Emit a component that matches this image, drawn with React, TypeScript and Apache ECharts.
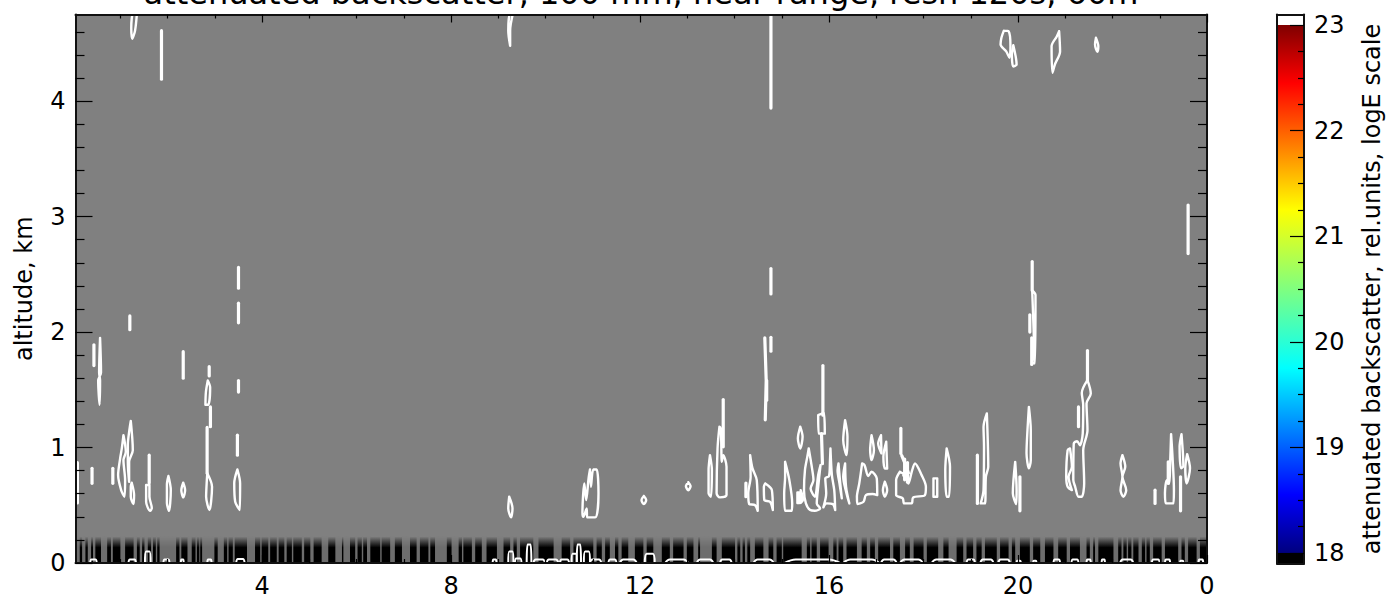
import React, { useEffect, useRef } from "react";
import * as echarts from "echarts";

type P = [number, number];

const titleText = "attenuated backscatter, 100 mm, near range, resn 120s, 60m";
const yName = "altitude, km";
const barName = "attenuated backscatter, rel.units, logE scale";

const xMajor = [4, 8, 12, 16, 20, 24];
const xMinor = [1, 2, 3, 5, 6, 7, 9, 10, 11, 13, 14, 15, 17, 18, 19, 21, 22, 23];
const yMajor = [0, 1, 2, 3, 4];
const yMinor = [0.2, 0.4, 0.6, 0.8, 1.2, 1.4, 1.6, 1.8, 2.2, 2.4, 2.6, 2.8, 3.2, 3.4, 3.6, 3.8, 4.2, 4.4, 4.6];
const barMajor = [18, 19, 20, 21, 22, 23];
const barMinor = [18.25, 18.5, 18.75, 19.25, 19.5, 19.75, 20.25, 20.5, 20.75, 21.25, 21.5, 21.75, 22.25, 22.5, 22.75];

// closed contour outlines (hour, km)
const contoursMorning: P[][] = [
  [[1.065, 1.107], [1.115, 0.963], [1.065, 0.891], [1.1, 0.718], [1.086, 0.574], [1.016, 0.631], [0.952, 0.761], [0.995, 0.906], [1.03, 0.992]],
  [[1.22, 1.231], [1.263, 0.977], [1.185, 0.876], [1.185, 0.703], [1.157, 0.876], [1.157, 1.02], [1.19, 1.15]],
  [[1.24, 0.695], [1.29, 0.588], [1.277, 0.51], [1.22, 0.574], [1.22, 0.66]],
  [[1.545, 0.675], [1.545, 0.53], [1.63, 0.452], [1.665, 0.476], [1.615, 0.574], [1.615, 0.675]],
  [[2.017, 0.753], [2.067, 0.631], [2.03, 0.452], [1.985, 0.52], [1.985, 0.68]],
  [[2.33, 0.695], [2.37, 0.63], [2.33, 0.568], [2.29, 0.63]],
  [[2.84, 0.777], [2.94, 0.66], [2.885, 0.458], [2.815, 0.574], [2.83, 0.718]],
  [[2.85, 1.58], [2.9, 1.52], [2.86, 1.37], [2.8, 1.37], [2.81, 1.48]],
  [[3.477, 0.81], [3.534, 0.69], [3.53, 0.458], [3.43, 0.53], [3.41, 0.69]],
  [[0.57, 1.95], [0.59, 1.65], [0.53, 1.58], [0.56, 1.37], [0.57, 1.58], [0.55, 1.65]],
  [[1.35, 4.76], [1.31, 4.61], [1.25, 4.54], [1.23, 4.63], [1.27, 4.76]],
  [[9.31, 4.76], [9.25, 4.61], [9.25, 4.48], [9.21, 4.61], [9.25, 4.76]],
  [[9.23, 0.574], [9.3, 0.473], [9.27, 0.395], [9.21, 0.473]],
  [[10.94, 0.81], [10.96, 0.66], [11.01, 0.81], [11.08, 0.81], [11.12, 0.603], [11.05, 0.395], [10.88, 0.395], [10.87, 0.473], [10.8, 0.4], [10.78, 0.435], [10.82, 0.689], [10.86, 0.545], [10.91, 0.733]],
  [[12.08, 0.58], [12.13, 0.545], [12.08, 0.51], [12.03, 0.545]],
  [[13.02, 0.7], [13.07, 0.666], [13.02, 0.63], [12.97, 0.666]],
];
const contoursMidday: P[][] = [
  [[13.48, 0.934], [13.52, 0.804], [13.5, 0.574], [13.45, 0.605], [13.45, 0.804]],
  [[13.68, 1.18], [13.64, 0.992], [13.62, 0.603], [13.69, 0.568], [13.83, 0.588], [13.83, 0.833], [13.76, 0.934], [13.73, 0.876], [13.71, 1.165]],
  [[14.33, 0.934], [14.38, 0.819], [14.47, 0.718], [14.49, 0.452], [14.43, 0.502], [14.31, 0.51], [14.29, 0.603], [14.34, 0.747]],
  [[14.65, 0.689], [14.79, 0.631], [14.81, 0.458], [14.75, 0.53], [14.63, 0.545], [14.62, 0.66]],
  [[15.07, 0.876], [15.16, 0.718], [15.22, 0.516], [15.21, 0.452], [15.07, 0.452], [15.05, 0.603], [15.07, 0.747]],
  [[15.33, 0.61], [15.37, 0.61], [15.37, 0.52], [15.33, 0.52]],
  [[15.4, 0.63], [15.45, 0.55], [15.4, 0.52]],
  [[15.57, 0.992], [15.64, 0.819], [15.67, 0.718], [15.61, 0.646], [15.7, 0.574], [15.77, 0.761], [15.82, 0.848], [15.77, 0.66], [15.74, 0.516], [15.81, 0.473], [15.7, 0.452], [15.6, 0.458], [15.51, 0.516], [15.47, 0.631], [15.49, 0.804], [15.54, 0.92]],
  [[15.77, 1.28], [15.89, 1.3], [15.91, 1.12], [15.78, 1.12]],
  [[16.03, 0.992], [16.06, 0.761], [16.11, 0.631], [16.13, 0.458], [16.08, 0.51], [15.95, 0.516], [15.88, 0.482], [15.94, 0.603], [15.92, 0.733], [16.0, 0.753], [16.02, 0.89]],
  [[16.2, 0.862], [16.23, 0.718], [16.27, 0.56], [16.22, 0.692], [16.18, 0.804]],
  [[16.34, 0.862], [16.36, 0.66], [16.43, 0.516], [16.37, 0.603], [16.3, 0.747]],
  [[16.34, 1.237], [16.39, 1.093], [16.37, 0.934], [16.3, 1.064]],
  [[15.39, 1.18], [15.44, 1.093], [15.39, 0.992], [15.34, 1.079]],
  [[16.7, 0.862], [16.64, 0.689], [16.59, 0.574], [16.6, 0.51], [16.73, 0.53], [16.78, 0.588], [16.92, 0.597], [17.02, 0.588], [17.01, 0.733], [16.9, 0.79], [16.83, 0.753], [16.75, 0.848]],
  [[17.18, 0.703], [17.23, 0.631], [17.18, 0.574], [17.14, 0.631]],
  [[16.9, 1.107], [16.95, 0.977], [16.9, 0.891], [16.87, 0.977]],
  [[17.1, 1.107], [17.11, 0.949], [17.04, 1.035]],
  [[17.21, 1.05], [17.23, 0.819], [17.18, 0.819], [17.15, 0.92]],
  [[17.5, 0.79], [17.42, 0.718], [17.42, 0.588], [17.56, 0.56], [17.59, 0.516], [17.75, 0.516], [17.78, 0.568], [18.03, 0.588], [18.05, 0.66], [17.96, 0.761], [17.82, 0.862], [17.75, 0.79], [17.68, 0.689], [17.61, 0.761]],
  [[18.21, 0.733], [18.29, 0.733], [18.29, 0.574], [18.21, 0.574]],
  [[18.49, 0.992], [18.56, 0.833], [18.54, 0.574], [18.49, 0.574], [18.46, 0.804]],
];
const contoursEvening: P[][] = [
  [[19.34, 1.295], [19.37, 0.833], [19.32, 0.747], [19.3, 0.516], [19.21, 0.516], [19.27, 0.631], [19.28, 1.006], [19.27, 1.179]],
  [[19.94, 0.876], [19.97, 0.631], [19.96, 0.51], [19.89, 0.605]],
  [[19.7, 4.61], [19.8, 4.605], [19.84, 4.475], [19.82, 4.375], [19.75, 4.43], [19.63, 4.49], [19.65, 4.55]],
  [[19.9, 4.483], [19.97, 4.317], [19.9, 4.3], [19.87, 4.4]],
  [[20.87, 4.605], [20.89, 4.43], [20.78, 4.317], [20.73, 4.245], [20.71, 4.475], [20.82, 4.56]],
  [[21.65, 4.548], [21.7, 4.475], [21.68, 4.427], [21.63, 4.49]],
  [[20.3, 2.36], [20.37, 2.32], [20.36, 1.73], [20.3, 1.73], [20.34, 1.85], [20.33, 2.02]],
  [[20.23, 1.352], [20.27, 1.15], [20.27, 0.89], [20.23, 0.82], [20.18, 0.95], [20.2, 1.15]],
  [[21.47, 1.583], [21.54, 1.468], [21.45, 1.381], [21.47, 1.15], [21.38, 0.977], [21.4, 0.689], [21.35, 0.574], [21.28, 0.574], [21.21, 0.66], [21.17, 0.718], [21.18, 1.035], [21.25, 1.055], [21.31, 1.02], [21.37, 1.122], [21.38, 1.367], [21.35, 1.473]],
  [[21.1, 0.992], [21.14, 0.833], [21.07, 0.747], [21.14, 0.631], [21.05, 0.66], [21.02, 0.747], [21.05, 0.977]],
  [[22.21, 0.934], [22.27, 0.833], [22.21, 0.747], [22.29, 0.631], [22.23, 0.574], [22.17, 0.631], [22.21, 0.747], [22.17, 0.862]],
  [[23.24, 1.116], [23.27, 0.92], [23.3, 0.631], [23.29, 0.516], [23.13, 0.516], [23.11, 0.605], [23.15, 0.718], [23.2, 0.69], [23.22, 0.865]],
  [[23.46, 1.116], [23.5, 0.84], [23.45, 0.82], [23.42, 1.006]],
  [[23.58, 0.943], [23.64, 0.82], [23.57, 0.689], [23.54, 0.82]],
];

// narrow features that read as solid streaks (hour, km)
const streaks: P[][] = [
  [[0.09, 0.87], [0.09, 0.52]],
  [[0.4, 0.82], [0.4, 0.69]],
  [[0.84, 0.82], [0.84, 0.69]],
  [[0.44, 1.89], [0.44, 1.71]],
  [[1.2, 2.14], [1.2, 2.02]],
  [[1.61, 0.934], [1.61, 0.692]],
  [[1.87, 4.61], [1.87, 4.19]],
  [[2.33, 1.83], [2.33, 1.6]],
  [[2.836, 1.174], [2.836, 0.777]],
  [[2.906, 1.352], [2.906, 1.18]],
  [[2.88, 1.7], [2.88, 1.62]],
  [[3.477, 1.107], [3.477, 0.934]],
  [[3.5, 1.58], [3.5, 1.48]],
  [[3.5, 2.56], [3.5, 2.38]],
  [[3.5, 2.25], [3.5, 2.08]],
  [[13.76, 1.416], [13.76, 1.006]],
  [[14.24, 0.692], [14.24, 0.574]],
  [[14.64, 1.95], [14.67, 1.58], [14.66, 1.41], [14.65, 1.24]],
  [[14.68, 1.58], [14.68, 1.41]],
  [[14.77, 1.955], [14.77, 1.834]],
  [[14.77, 4.76], [14.77, 3.94]],
  [[14.77, 2.55], [14.77, 2.33]],
  [[15.87, 1.71], [15.87, 1.28]],
  [[15.84, 1.12], [15.86, 0.86]],
  [[17.52, 1.165], [17.52, 0.949]],
  [[17.54, 0.93], [17.62, 0.85], [17.68, 0.78], [17.58, 0.76]],
  [[17.6, 0.9], [17.6, 0.72]],
  [[17.66, 0.87], [17.66, 0.7]],
  [[19.14, 0.934], [19.14, 0.516]],
  [[20.04, 0.747], [20.04, 0.452]],
  [[20.3, 2.61], [20.3, 2.36]],
  [[20.25, 2.15], [20.25, 2.0]],
  [[20.29, 1.95], [20.29, 1.72]],
  [[21.28, 1.352], [21.28, 1.18]],
  [[21.47, 1.84], [21.47, 1.583]],
  [[22.9, 0.631], [22.9, 0.516]],
  [[23.18, 0.876], [23.18, 0.689]],
  [[23.44, 0.747], [23.44, 0.452]],
  [[23.6, 3.1], [23.6, 2.68]],
];

// low contours hugging the ground: start hour, end hour, height km
const groundBumps: [number, number, number][] = [
  [0.36, 0.5, 0.03], [1.17, 1.33, 0.03], [1.52, 1.64, 0.1], [1.91, 2.04, 0.03], [2.28, 2.34, 0.03], [2.84, 2.93, 0.03], [3.45, 3.63, 0.035],
  [8.88, 8.96, 0.03], [9.21, 9.32, 0.1], [9.35, 9.49, 0.04], [9.6, 9.7, 0.16], [9.74, 9.99, 0.03], [10.02, 10.27, 0.03], [10.3, 10.5, 0.03],
  [10.55, 10.66, 0.08], [10.66, 10.75, 0.16], [10.81, 10.94, 0.1], [10.94, 11.18, 0.03], [11.33, 11.5, 0.03], [11.57, 11.93, 0.03],
  [12.1, 12.31, 0.08], [12.53, 13.02, 0.03], [13.2, 13.55, 0.03], [13.69, 13.94, 0.03], [14.4, 14.83, 0.03], [15.06, 16.23, 0.03], [16.3, 17.06, 0.03],
  [17.1, 17.43, 0.03], [17.5, 17.99, 0.03], [18.17, 18.67, 0.03], [18.91, 19.09, 0.03], [19.2, 19.48, 0.03], [19.58, 19.83, 0.03], [19.97, 20.06, 0.02],
  [20.32, 20.39, 0.02], [20.75, 20.89, 0.03], [21.13, 21.28, 0.03], [21.45, 21.54, 0.03], [21.77, 21.84, 0.03], [22.16, 22.44, 0.03], [22.83, 23.0, 0.03],
  [23.11, 23.22, 0.03], [23.43, 23.5, 0.02], [23.82, 23.92, 0.03],
];

// noise band near the ground: height and the hour spans left gray
const bandTop = 0.23;
const bandSpan: [number, number] = [0.05, 24];
const bandGaps: P[] = [
  [0.05, 0.14], [0.19, 0.26], [0.31, 0.38], [0.42, 0.47], [0.59, 0.72], [0.8, 0.84], [1.0, 1.1], [1.28, 1.35], [1.41, 1.46], [1.51, 1.58], [1.65, 1.69], [1.75, 1.78],
  [1.83, 2.18], [2.25, 2.29], [2.42, 2.51], [2.59, 2.62], [2.67, 2.69], [2.73, 2.99], [3.06, 3.19], [3.26, 3.29], [3.38, 3.42], [3.68, 3.85], [3.96, 3.99], [4.13, 4.17],
  [4.31, 4.35], [4.47, 4.52], [4.63, 4.66], [4.84, 4.89], [5.02, 5.09], [5.26, 5.4], [5.55, 5.69], [5.72, 5.86], [5.97, 6.02], [6.11, 6.14], [6.22, 6.29], [6.5, 6.53],
  [6.71, 6.81], [6.96, 7.13], [7.27, 7.34], [7.52, 7.56], [7.66, 7.91], [8.01, 8.16], [8.23, 8.26], [8.44, 8.51], [8.65, 8.75], [8.97, 9.11], [9.25, 9.32], [9.39, 9.46],
  [9.74, 9.85], [10.17, 10.34], [10.52, 10.59], [11.01, 11.08], [11.19, 11.26], [11.36, 11.47], [11.54, 11.61], [11.75, 11.89], [12.07, 12.14], [12.28, 12.46],
  [12.63, 12.7], [12.92, 12.99], [13.13, 13.23], [13.27, 13.52], [13.62, 13.73], [14.01, 14.06], [14.12, 14.17], [14.22, 14.27], [14.33, 14.43], [14.61, 14.72],
  [14.82, 14.89], [15.0, 15.03], [15.42, 15.53], [15.6, 15.63], [15.74, 15.81], [15.99, 16.09], [16.16, 16.2], [16.3, 16.37], [16.59, 16.69], [16.8, 16.87],
  [16.97, 17.04], [17.29, 17.36], [17.5, 17.61], [17.71, 17.79], [18.0, 18.07], [18.31, 18.42], [18.53, 18.7], [18.84, 18.91], [19.05, 19.12], [19.23, 19.3],
  [19.55, 19.62], [19.8, 19.87], [19.94, 20.04], [20.25, 20.32], [20.47, 20.57], [20.75, 20.85], [21.03, 21.1], [21.31, 21.45], [21.52, 21.59], [21.63, 21.7],
  [22.02, 22.12], [22.19, 22.23], [22.3, 22.33], [22.4, 22.44], [22.55, 22.62], [22.69, 22.72], [22.79, 22.86], [23.04, 23.11], [23.39, 23.46], [23.53, 23.6], [23.78, 23.85],
];

// colour bar
const jetColors: [number, string][] = [
  [0, "#7f0000"], [0.11, "#ff0000"], [0.35, "#ffff00"], [0.65, "#00ffff"], [0.89, "#0000ff"], [1, "#00007f"],
];
const barOver: [number, number] = [23, 23.1];
const barScale: [number, number] = [18, 23];
const barUnder: [number, number] = [17.9, 18];

const FONT = "DejaVu Sans";

function lineSeries(points: P[], width: number, smooth: number) {
  return {
    type: "line",
    xAxisIndex: 0,
    yAxisIndex: 0,
    data: points,
    symbol: "none",
    silent: true,
    smooth,
    z: 3,
    clip: true,
    lineStyle: { color: "#ffffff", width, cap: "round", join: "round" },
  };
}

export default function App() {
  const ref = useRef<HTMLDivElement>(null);
  useEffect(() => {
    const chart = echarts.init(ref.current!, undefined, { renderer: "svg" });
    const blackTicks = { color: "#000", width: 1.2 };
    const line = { show: true, onZero: false, lineStyle: { color: "#111", width: 2 } };
    const noLine = { show: false, onZero: false };
    const noLabel = { show: false };

    const mainX = { type: "value", gridIndex: 0, min: 0.05, max: 24, splitLine: { show: false }, z: 10 };
    const mainY = { type: "value", gridIndex: 0, min: 0, max: 4.75, splitLine: { show: false }, z: 10 };
    const barX = { type: "value", gridIndex: 1, min: 0, max: 1, splitLine: { show: false }, z: 10, axisTick: { show: false }, axisLabel: noLabel };
    const barY = { type: "value", gridIndex: 1, min: 17.9, max: 23.1, splitLine: { show: false }, z: 10 };

    const contours = [...contoursMorning, ...contoursMidday, ...contoursEvening];

    chart.setOption({
      animation: false,
      backgroundColor: "#ffffff",
      textStyle: { fontFamily: FONT },
      title: {
        text: titleText,
        left: 636,
        top: -28,
        textAlign: "center",
        textStyle: { fontFamily: FONT, fontSize: 32, fontWeight: "normal", color: "#000" },
      },
      grid: [
        { left: 75.5, right: 179, top: 14.5, bottom: 36, show: true, backgroundColor: "#808080", borderWidth: 0, outerBoundsMode: "none" },
        { left: 1277, width: 27, top: 14.5, height: 549, show: false, outerBoundsMode: "none" },
      ],
      xAxis: [
        { ...mainX, position: "bottom", axisLine: line, axisTick: { inside: true, length: 8, lineStyle: blackTicks, customValues: xMajor },
          axisLabel: { customValues: xMajor, fontSize: 24, color: "#000", fontFamily: FONT, margin: 11, formatter: (v: number) => String(v % 24) } },
        { ...mainX, position: "bottom", axisLine: noLine, axisLabel: noLabel, axisTick: { inside: true, length: 4, lineStyle: blackTicks, customValues: xMinor } },
        { ...mainX, position: "top", axisLine: line, axisLabel: noLabel, axisTick: { inside: true, length: 8, lineStyle: blackTicks, customValues: xMajor } },
        { ...mainX, position: "top", axisLine: noLine, axisLabel: noLabel, axisTick: { inside: true, length: 4, lineStyle: blackTicks, customValues: xMinor } },
        { ...barX, position: "bottom", axisLine: line },
        { ...barX, position: "top", axisLine: line },
      ],
      yAxis: [
        { ...mainY, position: "left", axisLine: line, axisTick: { inside: true, length: 17, lineStyle: blackTicks, customValues: yMajor },
          axisLabel: { customValues: yMajor, fontSize: 24, color: "#000", fontFamily: FONT, margin: 10 },
          name: yName, nameLocation: "middle", nameRotate: 90, nameGap: 40, nameTextStyle: { fontSize: 24, color: "#000", fontFamily: FONT } },
        { ...mainY, position: "left", axisLine: noLine, axisLabel: noLabel, axisTick: { inside: true, length: 9, lineStyle: blackTicks, customValues: yMinor } },
        { ...mainY, position: "right", axisLine: line, axisLabel: noLabel, axisTick: { inside: true, length: 17, lineStyle: blackTicks, customValues: yMajor } },
        { ...mainY, position: "right", axisLine: noLine, axisLabel: noLabel, axisTick: { inside: true, length: 9, lineStyle: blackTicks, customValues: yMinor } },
        { ...barY, position: "right", axisLine: line, axisTick: { inside: true, length: 14, lineStyle: blackTicks, customValues: barMajor },
          axisLabel: { customValues: barMajor, fontSize: 24, color: "#000", fontFamily: FONT, margin: 10 },
          name: barName, nameLocation: "middle", nameRotate: 90, nameGap: 56, nameTextStyle: { fontSize: 24, color: "#000", fontFamily: FONT } },
        { ...barY, position: "right", axisLine: noLine, axisLabel: noLabel, axisTick: { inside: true, length: 6, lineStyle: blackTicks, customValues: barMinor } },
        { ...barY, position: "left", axisLine: line, axisLabel: noLabel, axisTick: { show: false } },
      ],
      series: [
        {
          type: "custom",
          xAxisIndex: 0,
          yAxisIndex: 0,
          z: 1,
          silent: true,
          clip: true,
          data: [bandSpan],
          renderItem: (_: any, api: any) => {
            const a = api.coord([api.value(0), bandTop]);
            const b = api.coord([api.value(1), 0]);
            return {
              type: "rect",
              shape: { x: a[0], y: a[1], width: b[0] - a[0], height: b[1] - a[1] },
              style: {
                fill: new echarts.graphic.LinearGradient(0, 0, 0, 1, [
                  { offset: 0, color: "#808080" },
                  { offset: 0.42, color: "#000000" },
                  { offset: 1, color: "#000000" },
                ]),
              },
            };
          },
        },
        {
          type: "custom",
          xAxisIndex: 0,
          yAxisIndex: 0,
          z: 2,
          silent: true,
          clip: true,
          data: bandGaps,
          renderItem: (_: any, api: any) => {
            const a = api.coord([api.value(0), bandTop]);
            const b = api.coord([api.value(1), 0]);
            return {
              type: "rect",
              shape: { x: a[0], y: a[1], width: b[0] - a[0], height: b[1] - a[1] },
              style: { fill: "#808080", opacity: 0.85 },
            };
          },
        },
        ...groundBumps.map(([s, e, h]) =>
          lineSeries([[s, 0], [s + (e - s) * 0.2, h], [e - (e - s) * 0.2, h], [e, 0]], 2, 0.4)
        ),
        ...contours.map((c) => lineSeries([...c, c[0]], 2.4, 0.3)),
        ...streaks.map((c) => lineSeries(c, 3.2, 0)),
        {
          type: "custom",
          xAxisIndex: 4,
          yAxisIndex: 4,
          z: 2,
          silent: true,
          data: [
            [barOver[0], barOver[1], 0],
            [barScale[0], barScale[1], 1],
            [barUnder[0], barUnder[1], 2],
          ],
          renderItem: (_: any, api: any) => {
            const low = api.coord([0, api.value(0)]);
            const high = api.coord([1, api.value(1)]);
            const kind = api.value(2);
            const fill =
              kind === 0
                ? "#ffffff"
                : kind === 2
                ? "#000000"
                : new echarts.graphic.LinearGradient(0, 0, 0, 1, jetColors.map(([offset, color]) => ({ offset, color })));
            return {
              type: "rect",
              shape: { x: low[0], y: high[1], width: high[0] - low[0], height: low[1] - high[1] },
              style: { fill },
            };
          },
        },
      ],
    });
    return () => chart.dispose();
  }, []);
  return <div ref={ref} style={{ position: "fixed", left: 0, top: 0, width: 1386, height: 599 }} />;
}
